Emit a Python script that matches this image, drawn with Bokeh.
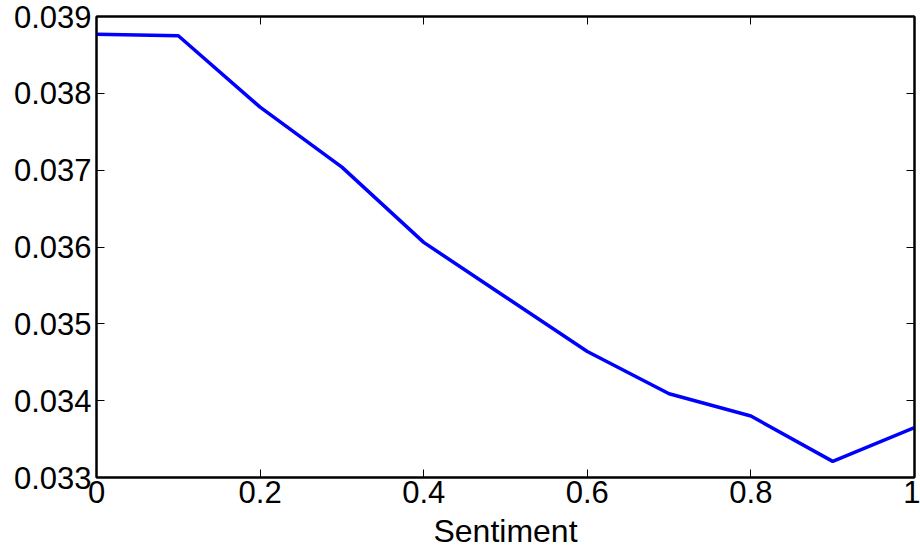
from bokeh.plotting import figure
from bokeh.models import LinearAxis, FixedTicker, PrintfTickFormatter, Range1d, CustomJSTickFormatter
from bokeh.embed import file_html
from bokeh.resources import INLINE

# Data
sentiment = [0.0, 0.1, 0.2, 0.3, 0.4, 0.5, 0.6, 0.7, 0.8, 0.9, 1.0]
values = [0.03877, 0.03875, 0.03782, 0.03704, 0.03606, 0.03535, 0.03464,
          0.03409, 0.03380, 0.03321, 0.03365]
x_ticks = [0, 0.2, 0.4, 0.6, 0.8, 1]
x_tick_labels = ["0", "0.2", "0.4", "0.6", "0.8", "1"]
y_ticks = [0.033, 0.034, 0.035, 0.036, 0.037, 0.038, 0.039]

FONT = "Liberation Sans"
FS = "31px"

p = figure(width=920, height=551, output_backend="svg", toolbar_location=None,
           x_range=Range1d(0, 1), y_range=Range1d(0.033, 0.039),
           min_border_left=96, min_border_right=6, min_border_top=16, min_border_bottom=0)
p.background_fill_color = "white"
p.border_fill_color = "white"
p.outline_line_color = "black"
p.outline_line_width = 2
p.grid.visible = False

p.line(sentiment, values, line_color="#0000ff", line_width=3.5)

def style_axis(ax, labels=True):
    ax.axis_line_color = "black"
    ax.axis_line_width = 2
    ax.major_tick_in = 8
    ax.major_tick_out = 0
    ax.minor_tick_in = 0
    ax.minor_tick_out = 0
    ax.major_tick_line_color = "black"
    ax.major_tick_line_width = 1
    if labels:
        ax.major_label_text_font = FONT
        ax.major_label_text_font_size = FS
        ax.major_label_text_color = "black"
    else:
        ax.formatter = CustomJSTickFormatter(code="return '';")
        ax.major_label_standoff = 0

xt = FixedTicker(ticks=x_ticks)
yt = FixedTicker(ticks=y_ticks)

xa = p.xaxis[0]
xa.ticker = xt
xa.major_label_overrides = {t: l for t, l in zip(x_ticks, x_tick_labels)}
style_axis(xa)
xa.major_label_standoff = 3
xa.axis_label = "Sentiment"
xa.axis_label_text_font = FONT
xa.axis_label_text_font_size = "32px"
xa.axis_label_text_font_style = "normal"
xa.axis_label_text_color = "black"
xa.axis_label_standoff = 7

ya = p.yaxis[0]
ya.ticker = yt
ya.formatter = PrintfTickFormatter(format="%.3f")
style_axis(ya)
ya.major_label_standoff = 5

top = LinearAxis(ticker=FixedTicker(ticks=x_ticks))
style_axis(top, labels=False)
p.add_layout(top, "above")
right = LinearAxis(ticker=FixedTicker(ticks=y_ticks))
style_axis(right, labels=False)
p.add_layout(right, "right")

open("out.html", "w").write(file_html(p, INLINE))
